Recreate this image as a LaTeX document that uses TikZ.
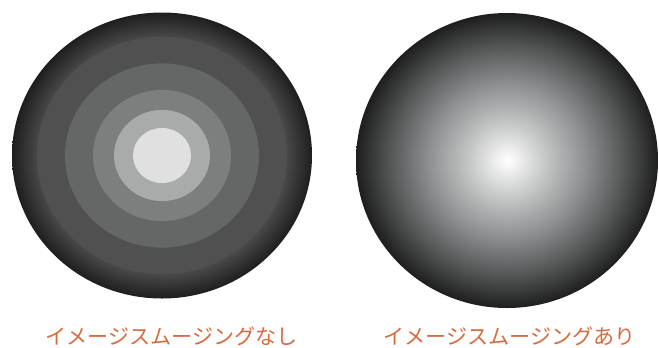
\documentclass[tikz,border=0pt]{standalone}
\usepackage{fontspec}
\newfontfamily\jpfont{Noto Sans CJK JP}

\definecolor{labelorange}{HTML}{D66B3E}
\definecolor{rimdark}{HTML}{1E1E1E}
\definecolor{ringE}{HTML}{505050}
\definecolor{ringD}{HTML}{656767}
\definecolor{ringC}{HTML}{7D7F7F}
\definecolor{ringB}{HTML}{A9AAAA}
\definecolor{ringA}{HTML}{E0E0E0}
\definecolor{ballA}{HTML}{C8C9C9}
\definecolor{ballB}{HTML}{8C9090}
\definecolor{ballC}{HTML}{585A5A}

\pgfdeclareradialshading{outerband}{\pgfpointorigin}{color(0bp)=(ringE); color(20bp)=(ringE); color(24bp)=(rimdark!80!ringE); color(25bp)=(rimdark); color(50bp)=(rimdark)}
\pgfdeclareradialshading{smoothball}{\pgfpointorigin}{color(0bp)=(white); color(6bp)=(ballA); color(13bp)=(ballB); color(19bp)=(ballC); color(25bp)=(rimdark); color(50bp)=(rimdark)}

\tikzset{jplabel/.style={text=labelorange,font=\jpfont\fontsize{15.8}{16}\selectfont,inner sep=0pt}}

\begin{document}
\begin{tikzpicture}[x=0.75pt,y=-0.75pt]
\useasboundingbox (0,0) rectangle (659,347);
%%%%%left disc, no smoothing
\def\xl{162}
\def\yl{155.5}
\shade[shading=outerband] (\xl,\yl) ellipse (150 and 143);
\foreach \r/\c in {125/ringE,97/ringD,69/ringC,48/ringB,29/ringA}
{
 \fill[\c] (\xl,\yl) ellipse ({\r} and {0.95*\r});
}
%%%%%right disc, smoothing
\def\xr{507}
\def\yr{160.5}
\shade[shading=smoothball] (\xr,\yr) ellipse (151 and 147.5);

\node[jplabel] (nosmooth) at (171.5,336.5) {イメージスムージングなし};
\node[jplabel] (smooth) at (509.5,336.5) {イメージスムージングあり};
\end{tikzpicture}
\end{document}
